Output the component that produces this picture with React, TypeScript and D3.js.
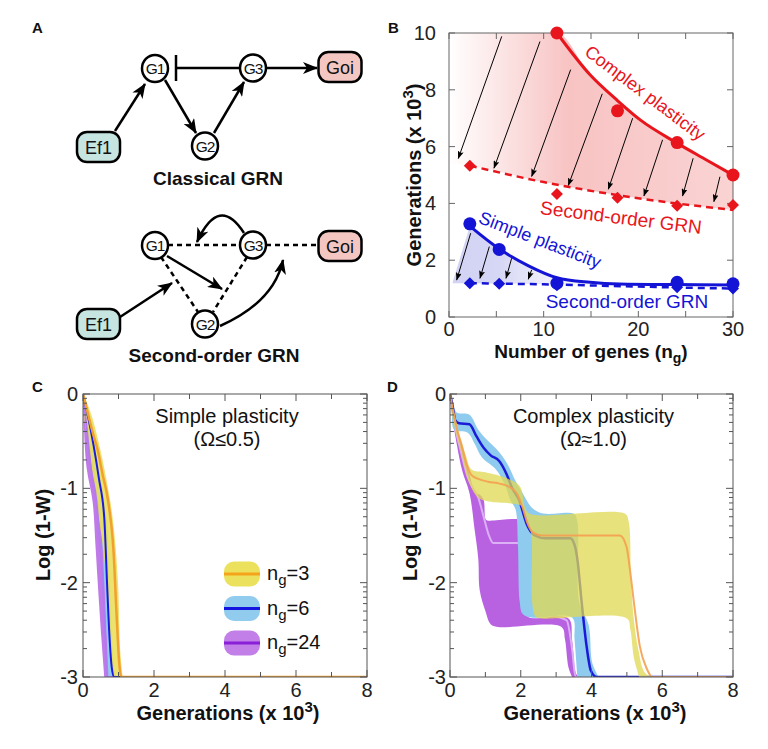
import React from 'react';
import * as d3 from 'd3';

const FONT = "'Liberation Sans', Arial, Helvetica, sans-serif";

// ---------------- Panel B data ----------------
const bXTicks = [0, 10, 20, 30];
const bXMinor = [0, 5, 10, 15, 20, 25, 30];
const bYTicks = [0, 2, 4, 6, 8, 10];
const complexPtsX = [11.4, 17.8, 24.1, 30];
const complexPtsY = [10.0, 7.26, 6.14, 5.0];
const complexFitX = [11.4, 14.9, 17.7, 20.2, 24.0, 27.2, 30];
const complexFitY = [10.0, 8.53, 7.65, 6.94, 6.14, 5.53, 5.0];
const complex2PtsX = [2.2, 11.4, 17.8, 24.1, 30];
const complex2PtsY = [5.33, 4.33, 4.2, 3.92, 3.94];
const complex2FitX = [2.2, 10, 20, 30];
const complex2FitY = [5.33, 4.75, 4.18, 3.77];
const simplePtsX = [2.2, 5.3, 11.4, 24.1, 30];
const simplePtsY = [3.28, 2.38, 1.19, 1.22, 1.17];
const simpleFitX = [2.2, 5.3, 8.4, 11.4, 14.9, 18, 24, 30];
const simpleFitY = [3.2, 2.4, 1.8, 1.38, 1.22, 1.16, 1.14, 1.13];
const simple2PtsX = [2.2, 5.3, 11.4, 24.1, 30];
const simple2PtsY = [1.19, 1.17, 1.12, 1.05, 1.0];
const simple2FitX = [2.2, 10, 20, 30];
const simple2FitY = [1.19, 1.15, 1.07, 1.0];
// arrows [x0, y0, x1, y1] in data units
const redArrows = [
  [5.57, 9.88, 0.98, 5.58],
  [9.61, 9.7, 4.75, 5.24],
  [12.85, 8.71, 8.73, 4.95],
  [16.19, 7.86, 12.6, 4.63],
  [19.4, 7.0, 16.83, 4.5],
  [22.56, 6.24, 20.59, 4.26],
  [25.79, 5.59, 24.67, 4.26],
  [28.62, 4.94, 27.98, 4.06],
];
const blueArrows = [
  [2.29, 2.95, 0.81, 1.3],
  [4.26, 2.48, 3.27, 1.36],
  [6.62, 2.07, 6.02, 1.36],
  [8.73, 1.66, 8.37, 1.33],
];

// ---------------- Panel C data: [generations x10^3, log10(1-W)] ----------------
const cYellowUpper = [[0, 0], [0.1, -0.08], [0.26, -0.25], [0.5, -0.61], [0.77, -1.14], [0.89, -1.5], [0.99, -2.03], [1.05, -2.73], [1.12, -3]];
const cYellowLower = [[0, 0], [0.03, -0.25], [0.18, -0.6], [0.37, -1.14], [0.58, -1.67], [0.74, -2.37], [0.84, -2.94], [0.9, -3]];
const cOrange = [[0, 0], [0.1, -0.15], [0.29, -0.43], [0.41, -0.59], [0.55, -0.85], [0.71, -1.14], [0.86, -1.67], [0.95, -2.37], [1.02, -2.85], [1.08, -3], [8, -3]];
const cBlueUpper = [[0, 0], [0.2, -0.3], [0.45, -0.8], [0.66, -1.3], [0.75, -2.0], [0.82, -2.6], [0.9, -2.95], [0.95, -3]];
const cBlueLower = [[0, 0], [0.1, -0.3], [0.3, -0.8], [0.5, -1.35], [0.6, -2.0], [0.67, -2.6], [0.72, -3]];
const cBlue = [[0, 0], [0.12, -0.2], [0.3, -0.55], [0.45, -0.9], [0.6, -1.32], [0.68, -2.03], [0.75, -2.6], [0.81, -2.9], [0.88, -3], [8, -3]];
const cPurpleUpper = [[0, 0], [0.2, -0.3], [0.33, -0.78], [0.5, -1.14], [0.58, -1.6], [0.67, -2.03], [0.74, -2.6], [0.78, -3]];
const cPurpleLower = [[0, 0], [0.02, -0.3], [0.1, -0.78], [0.27, -1.14], [0.35, -1.6], [0.42, -2.03], [0.52, -2.6], [0.6, -3]];
const cPurple = [[0, 0], [0.1, -0.35], [0.22, -0.78], [0.38, -1.14], [0.48, -1.6], [0.56, -2.03], [0.63, -2.6], [0.67, -3], [8, -3]];

// ---------------- Panel D data ----------------
const dBlue = [[0, 0], [0.07, -0.12], [0.15, -0.28], [0.25, -0.31], [0.55, -0.32], [0.75, -0.45], [0.95, -0.57], [1.15, -0.65], [1.39, -0.71], [1.6, -0.85], [1.76, -1.0], [1.95, -1.12], [2.17, -1.38], [2.4, -1.5], [2.7, -1.53], [3.4, -1.53], [3.52, -1.6], [3.6, -1.75], [3.72, -2.2], [3.86, -2.67], [3.98, -2.93], [4.15, -3], [8, -3]];
const dBlueUpper = [[0, 0], [0.12, -0.15], [0.2, -0.2], [0.55, -0.22], [0.8, -0.38], [1.0, -0.47], [1.4, -0.62], [1.65, -0.76], [1.85, -0.92], [2.05, -1.05], [2.3, -1.2], [2.5, -1.25], [2.7, -1.27], [3.5, -1.27], [3.6, -1.35], [3.65, -2.2], [3.92, -2.45], [4.02, -2.85], [4.2, -3]];
const dBlueLower = [[0, 0], [0.05, -0.15], [0.12, -0.38], [0.5, -0.41], [0.7, -0.53], [0.9, -0.67], [1.3, -0.8], [1.55, -0.96], [1.7, -1.12], [1.85, -1.22], [1.92, -1.6], [1.97, -2.2], [2.05, -2.33], [2.3, -2.37], [3.45, -2.37], [3.52, -2.6], [3.6, -3]];
const dYellowUpper = [[0, 0], [0.12, -0.2], [0.3, -0.48], [0.45, -0.65], [0.61, -0.8], [1.0, -0.83], [1.65, -0.9], [1.98, -0.98], [2.12, -1.2], [2.25, -1.27], [4.95, -1.27], [5.05, -1.35], [5.12, -2.0], [5.2, -2.4], [5.32, -2.7], [5.5, -2.95], [5.7, -3]];
const dYellowLower = [[0, 0], [0.1, -0.3], [0.3, -0.6], [0.55, -0.95], [0.8, -1.1], [1.1, -1.14], [1.9, -1.17], [2.05, -1.2], [2.2, -1.35], [2.3, -1.5], [2.32, -2.2], [2.42, -2.36], [2.6, -2.38], [5.0, -2.38], [5.1, -2.5], [5.2, -2.8], [5.35, -3]];
const dOrange = [[0, 0], [0.1, -0.2], [0.2, -0.38], [0.33, -0.54], [0.45, -0.72], [0.61, -0.86], [0.8, -0.9], [1.08, -0.93], [1.4, -0.95], [1.65, -0.98], [1.88, -1.05], [2.05, -1.2], [2.17, -1.35], [2.35, -1.47], [2.6, -1.5], [4.8, -1.5], [4.99, -1.62], [5.1, -1.9], [5.18, -2.15], [5.37, -2.68], [5.56, -2.91], [5.72, -3], [8, -3]];
const dPurpleUpper = [[0, 0], [0.15, -0.3], [0.35, -0.57], [0.55, -0.85], [0.72, -1.05], [0.85, -1.07], [0.95, -1.12], [1.0, -1.32], [1.05, -1.34], [2.05, -1.34], [2.1, -1.45], [2.12, -2.2], [2.2, -2.36], [3.35, -2.38], [3.45, -2.6], [3.55, -2.95], [3.62, -3]];
const dPurpleLower = [[0, 0], [0.05, -0.2], [0.2, -0.55], [0.35, -0.82], [0.55, -1.05], [0.7, -1.45], [0.8, -1.75], [0.84, -2.08], [1.0, -2.3], [1.15, -2.44], [1.35, -2.47], [3.15, -2.47], [3.25, -2.6], [3.35, -2.9], [3.45, -3]];
const dPurple = [[0, 0], [0.12, -0.3], [0.3, -0.6], [0.5, -0.88], [0.65, -1.0], [0.8, -1.1], [0.95, -1.3], [1.1, -1.5], [1.22, -1.58], [1.9, -1.58], [2.1, -1.65], [2.2, -1.9], [2.3, -2.2], [2.5, -2.3], [3.3, -2.4], [3.45, -2.7], [3.55, -3], [8, -3]];

const legendLabels = ['3', '6', '24'];
const genTicks = [0, 1, 2, 3, 4, 5, 6, 7, 8];

const RED = '#e8161c';
const BLUE = '#1414d6';

// ---------------- helpers ----------------
const yLog = d3.scaleLog().domain([1e-3, 1]).range([677, 394]);

function mkLine(xs: any) {
  return d3
    .line<number[]>()
    .x((d) => xs(d[0]))
    .y((d) => yLog(Math.pow(10, d[1])))
    .curve(d3.curveMonotoneX);
}

function bandPath(xs: any, upper: number[][], lower: number[][]) {
  const ln = d3
    .line<number[]>()
    .x((d) => xs(d[0]))
    .y((d) => yLog(Math.pow(10, d[1])))
    .curve(d3.curveCatmullRom.alpha(0.5));
  const a = ln(upper) as string;
  const b = ln([...lower].reverse()) as string;
  return a + 'L' + b.slice(1) + 'Z';
}

function LogFrame({ xs, labelX, panel, panelX, titleX, t1, t2, yTitleX }: any) {
  const [x0, x1] = xs.range();
  const ticks = yLog.ticks();
  return (
    <g>
      <rect x={x0} y={394} width={x1 - x0} height={677 - 394} fill="none" stroke="#555" strokeWidth={1} />
      {ticks.map((t: number, i: number) => {
        const lg = Math.log10(t);
        const major = Math.abs(lg - Math.round(lg)) < 1e-6;
        const y = yLog(t);
        const L = major ? 7 : 4;
        return (
          <g key={'y' + i}>
            <line x1={x0} x2={x0 + L} y1={y} y2={y} stroke="#555" />
            <line x1={x1} x2={x1 - L} y1={y} y2={y} stroke="#555" />
            {major && (
              <text x={labelX} y={y + 7} textAnchor="end" fontSize={20} fill="#222">
                {String(Math.round(lg))}
              </text>
            )}
          </g>
        );
      })}
      {genTicks.map((g) => {
        const x = xs(g);
        const major = g % 2 === 0;
        const L = major ? 7 : 5;
        return (
          <g key={'x' + g}>
            <line x1={x} x2={x} y1={677} y2={677 - L} stroke="#555" />
            <line x1={x} x2={x} y1={394} y2={394 + L} stroke="#555" />
            {major && (
              <text x={x} y={697} textAnchor="middle" fontSize={20} fill="#222">
                {g}
              </text>
            )}
          </g>
        );
      })}
      <text x={titleX} y={720} textAnchor="middle" fontSize={20} fontWeight="bold" fill="#111">
        <tspan>Generations (x 10</tspan>
        <tspan dy={-8} fontSize={15}>3</tspan>
        <tspan dy={8}>)</tspan>
      </text>
      <text transform={`translate(${yTitleX},535) rotate(-90)`} textAnchor="middle" fontSize={20} fontWeight="bold" fill="#111">
        Log (1-W)
      </text>
      <text x={panelX} y={392} fontSize={15} fontWeight="bold" fill="#111">{panel}</text>
      <text x={(x0 + x1) / 2 + 2} y={423} textAnchor="middle" fontSize={20} fill="#111">{t1}</text>
      <text x={(x0 + x1) / 2 + 2} y={446} textAnchor="middle" fontSize={20} fill="#111">{t2}</text>
    </g>
  );
}

const Defs = () => (
  <defs>
    <marker id="arrA" viewBox="0 0 15 12" refX={14} refY={6} markerWidth={15} markerHeight={12} markerUnits="userSpaceOnUse" orient="auto">
      <path d="M0,0 L15,6 L0,12 L4,6 Z" fill="#000" />
    </marker>
    <marker id="arrB" viewBox="0 0 8 6" refX={7.5} refY={3} markerWidth={8} markerHeight={6} markerUnits="userSpaceOnUse" orient="auto">
      <path d="M0,0 L8,3 L0,6 L1.5,3 Z" fill="#000" />
    </marker>
    <linearGradient id="redGrad" gradientUnits="userSpaceOnUse" x1={449} x2={733} y1={0} y2={0}>
      <stop offset="0" stopColor="#ffffff" />
      <stop offset="0.42" stopColor="#f8c3c3" />
      <stop offset="1" stopColor="#fad3d3" />
    </linearGradient>
    <linearGradient id="blueGrad" gradientUnits="userSpaceOnUse" x1={452} x2={640} y1={0} y2={0}>
      <stop offset="0" stopColor="#d2d2f4" />
      <stop offset="0.25" stopColor="#d6d6f5" />
      <stop offset="1" stopColor="#ffffff" stopOpacity={0} />
    </linearGradient>
    <clipPath id="clipC">
      <rect x={83} y={394} width={284} height={283} />
    </clipPath>
    <clipPath id="clipD">
      <rect x={450} y={394} width={283} height={283} />
    </clipPath>
  </defs>
);

function NodeCircle({ x, y, label }: any) {
  return (
    <g>
      <ellipse cx={x} cy={y} rx={13} ry={13.5} fill="#fff" stroke="#000" strokeWidth={2.5} />
      <text x={x} y={y + 5.5} textAnchor="middle" fontSize={15.5} letterSpacing={-1.2} fill="#111">{label}</text>
    </g>
  );
}
function NodeBox({ x, y, label, fill }: any) {
  return (
    <g>
      <rect x={x - 21.5} y={y - 15} width={43} height={30} rx={10} fill={fill} stroke="#000" strokeWidth={2.5} />
      <text x={x} y={y + 6.5} textAnchor="middle" fontSize={18} fill="#111">{label}</text>
    </g>
  );
}

function PanelA() {
  return (
    <g>
      <text x={32} y={33} fontSize={15} fontWeight="bold" fill="#111">A</text>
      <g stroke="#000" strokeWidth={2.5} fill="none">
        <path d="M115,131 L145,84" markerEnd="url(#arrA)" />
        <path d="M165,80 L196,133" markerEnd="url(#arrA)" />
        <path d="M214,133 L244,82" markerEnd="url(#arrA)" />
        <path d="M240,68 L176,68" />
        <path d="M176,55 L176,81" />
        <path d="M266,68 L317,68" markerEnd="url(#arrA)" />
      </g>
      <NodeCircle x={155} y={68.5} label="G1" />
      <NodeCircle x={205} y={146} label="G2" />
      <NodeCircle x={253} y={68} label="G3" />
      <NodeBox x={98.5} y={147} label="Ef1" fill="#c6e5e1" />
      <NodeBox x={340} y={67} label="Goi" fill="#f3c6c2" />
      <text x={218} y={185} textAnchor="middle" fontSize={19} fontWeight="bold" fill="#111">Classical GRN</text>
      <g stroke="#000" strokeWidth={2.5} fill="none">
        <path d="M168,245 L240,245" strokeDasharray="5,4" />
        <path d="M266,245 L318,245" strokeDasharray="5,4" />
        <path d="M161,257 L198,312" strokeDasharray="5,4" />
        <path d="M247,257 L213,312" strokeDasharray="5,4" />
        <path d="M120,317 L172,283" markerEnd="url(#arrA)" />
        <path d="M167,256 L222,289" markerEnd="url(#arrA)" />
        <path d="M244,233 Q219,194 197,242" markerEnd="url(#arrA)" />
        <path d="M220,326 Q274,302 283,260" markerEnd="url(#arrA)" />
      </g>
      <NodeCircle x={155} y={245.5} label="G1" />
      <NodeCircle x={205} y={324} label="G2" />
      <NodeCircle x={253} y={245} label="G3" />
      <NodeBox x={98.5} y={324} label="Ef1" fill="#c6e5e1" />
      <NodeBox x={340} y={246} label="Goi" fill="#f3c6c2" />
      <text x={214} y={362} textAnchor="middle" fontSize={19} fontWeight="bold" fill="#111">Second-order GRN</text>
    </g>
  );
}

function PanelB() {
  const x = d3.scaleLinear().domain([0, 30]).range([449, 733]);
  const y = d3.scaleLinear().domain([0, 10]).range([317, 33]);
  const pts = (xs: number[], ys: number[]) => xs.map((v, i) => [x(v), y(ys[i])] as [number, number]);
  const lineP = d3.line().curve(d3.curveMonotoneX);
  const cFit = pts(complexFitX, complexFitY);
  const c2Fit = pts(complex2FitX, complex2FitY);
  const sFit = pts(simpleFitX, simpleFitY);
  const s2Fit = pts(simple2FitX, simple2FitY);
  const redTop = [[x(0), y(complexFitY[0])] as [number, number], ...cFit];
  const redBot = [[x(0), y(complex2FitY[0] + 0.1)] as [number, number], ...c2Fit];
  const redPath = (lineP(redTop) as string) + 'L' + (lineP([...redBot].reverse()) as string).slice(1) + 'Z';
  const blueTop = [[x(0.4), y(simple2FitY[0] + 0.05)] as [number, number], ...sFit];
  const blueBot = [[x(0.4), y(simple2FitY[0])] as [number, number], ...s2Fit];
  const bluePath = d3.line()(blueTop) + 'L' + (lineP([...blueBot].reverse()) as string).slice(1) + 'Z';
  const diamond = (cx: number, cy: number, r: number) => `M${cx},${cy - r}L${cx + r},${cy}L${cx},${cy + r}L${cx - r},${cy}Z`;
  return (
    <g>
      <path d={redPath} fill="url(#redGrad)" />
      <path d={bluePath} fill="url(#blueGrad)" />
      <rect x={449} y={33} width={284} height={284} fill="none" stroke="#666" strokeWidth={1} />
      {bXMinor.map((t) => (
        <g key={'bx' + t}>
          <line x1={x(t)} x2={x(t)} y1={317} y2={311} stroke="#666" />
          <line x1={x(t)} x2={x(t)} y1={33} y2={39} stroke="#666" />
        </g>
      ))}
      {bXTicks.map((t) => (
        <text key={'bxl' + t} x={x(t)} y={336} textAnchor="middle" fontSize={20} fill="#222">{t}</text>
      ))}
      {bYTicks.map((t) => (
        <g key={'by' + t}>
          <line x1={449} x2={455} y1={y(t)} y2={y(t)} stroke="#666" />
          <line x1={733} x2={727} y1={y(t)} y2={y(t)} stroke="#666" />
          <text x={436} y={y(t) + 7} textAnchor="end" fontSize={20} fill="#222">{t}</text>
        </g>
      ))}
      {redArrows.map((a, i) => (
        <line key={'ra' + i} x1={x(a[0])} y1={y(a[1])} x2={x(a[2])} y2={y(a[3])} stroke="#000" strokeWidth={1} markerEnd="url(#arrB)" />
      ))}
      {blueArrows.map((a, i) => (
        <line key={'ba' + i} x1={x(a[0])} y1={y(a[1])} x2={x(a[2])} y2={y(a[3])} stroke="#000" strokeWidth={1} markerEnd="url(#arrB)" />
      ))}
      <path d={lineP(cFit) as string} fill="none" stroke={RED} strokeWidth={3} />
      <path d={lineP(c2Fit) as string} fill="none" stroke={RED} strokeWidth={2.5} strokeDasharray="7,5" />
      <path d={lineP(sFit) as string} fill="none" stroke={BLUE} strokeWidth={3} />
      <path d={lineP(s2Fit) as string} fill="none" stroke={BLUE} strokeWidth={2.5} strokeDasharray="7,5" />
      {complexPtsX.map((v, i) => (
        <circle key={'cp' + i} cx={x(v)} cy={y(complexPtsY[i])} r={6.5} fill={RED} />
      ))}
      {complex2PtsX.map((v, i) => (
        <path key={'c2' + i} d={diamond(x(v), y(complex2PtsY[i]), 6)} fill={RED} />
      ))}
      {simple2PtsX.map((v, i) => (
        <path key={'s2' + i} d={diamond(x(v), y(simple2PtsY[i]), 6)} fill={BLUE} />
      ))}
      {simplePtsX.map((v, i) => (
        <circle key={'sp' + i} cx={x(v)} cy={y(simplePtsY[i])} r={6.5} fill={BLUE} />
      ))}
      <text transform="translate(645,93) rotate(37)" y={6} textAnchor="middle" fontSize={18} fill={RED}>Complex plasticity</text>
      <text transform="translate(621,218) rotate(7)" y={6} textAnchor="middle" fontSize={19} fill={RED}>Second-order GRN</text>
      <text transform="translate(540,240) rotate(21)" y={6} textAnchor="middle" fontSize={18} fill={BLUE}>Simple plasticity</text>
      <text x={627} y={308} textAnchor="middle" fontSize={19} fill={BLUE}>Second-order GRN</text>
      <text transform="translate(421,175) rotate(-90)" textAnchor="middle" fontSize={20} fontWeight="bold" fill="#111">
        <tspan>Generations (x 10</tspan>
        <tspan dy={-8} fontSize={15}>3</tspan>
        <tspan dy={8}>)</tspan>
      </text>
      <text x={591} y={358} textAnchor="middle" fontSize={19} fontWeight="bold" fill="#111">
        <tspan>Number of genes (n</tspan>
        <tspan dy={5} fontSize={14}>g</tspan>
        <tspan dy={-5}>)</tspan>
      </text>
      <text x={388} y={33} fontSize={15} fontWeight="bold" fill="#111">B</text>
    </g>
  );
}

function PanelC() {
  const xs = d3.scaleLinear().domain([0, 8]).range([83, 367]);
  const ln = mkLine(xs);
  const sw = [
    { band: '#ece15c', line: '#f5a31a' },
    { band: '#91ccef', line: '#1414e0' },
    { band: '#c27fe8', line: '#8a1fd8' },
  ];
  return (
    <g>
      <g clipPath="url(#clipC)">
        <path d={bandPath(xs, cPurpleUpper, cPurpleLower)} fill="#c07ae8" />
        <path d={bandPath(xs, cBlueUpper, cBlueLower)} fill="#91ccef" />
        <path d={bandPath(xs, cYellowUpper, cYellowLower)} fill="#e9df5a" fillOpacity={0.88} />
        <path d={ln(cPurple) as string} fill="none" stroke="#b27af0" strokeWidth={2} />
        <path d={ln(cBlue) as string} fill="none" stroke="#1a1ae0" strokeWidth={2} />
        <path d={ln(cOrange) as string} fill="none" stroke="#f2a030" strokeWidth={2.5} />
      </g>
      <LogFrame xs={xs} labelX={78} panel="C" panelX={32} titleX={228} t1="Simple plasticity" t2="(Ω≤0.5)" yTitleX={50} />
      {legendLabels.map((l, i) => {
        const cy = 574 + i * 34.5;
        return (
          <g key={'lg' + l}>
            <rect x={224} y={cy - 12.5} width={36} height={25} rx={10} fill={sw[i].band} />
            <line x1={224} x2={260} y1={cy} y2={cy} stroke={sw[i].line} strokeWidth={3} />
            <text x={267} y={cy + 6} fontSize={20} fill="#111">
              <tspan>n</tspan>
              <tspan dy={5} fontSize={15}>g</tspan>
              <tspan dy={-5}>={l}</tspan>
            </text>
          </g>
        );
      })}
    </g>
  );
}

function PanelD() {
  const xs = d3.scaleLinear().domain([0, 8]).range([450, 733]);
  const ln = mkLine(xs);
  return (
    <g>
      <g clipPath="url(#clipD)">
        <path d={bandPath(xs, dPurpleUpper, dPurpleLower)} fill="#b862e2" />
        <path d={ln(dPurple) as string} fill="none" stroke="#dcb0f4" strokeWidth={2} />
        <path d={bandPath(xs, dBlueUpper, dBlueLower)} fill="#8fcbef" />
        <path d={ln(dBlue) as string} fill="none" stroke="#1a1ad8" strokeWidth={2.5} />
        <path d={bandPath(xs, dYellowUpper, dYellowLower)} fill="#e0d850" fillOpacity={0.75} />
        <path d={ln(dOrange) as string} fill="none" stroke="#f5a050" strokeOpacity={0.9} strokeWidth={2} />
      </g>
      <LogFrame xs={xs} labelX={446} panel="D" panelX={387} titleX={595} t1="Complex plasticity" t2="(Ω≈1.0)" yTitleX={417} />
    </g>
  );
}

export default function App() {
  return (
    <svg width={768} height={749} style={{ position: 'absolute', left: 0, top: 0, background: '#fff' }} fontFamily={FONT}>
      <Defs />
      <rect x={0} y={0} width={768} height={749} fill="#fff" />
      <PanelA />
      <PanelB />
      <PanelC />
      <PanelD />
    </svg>
  );
}
